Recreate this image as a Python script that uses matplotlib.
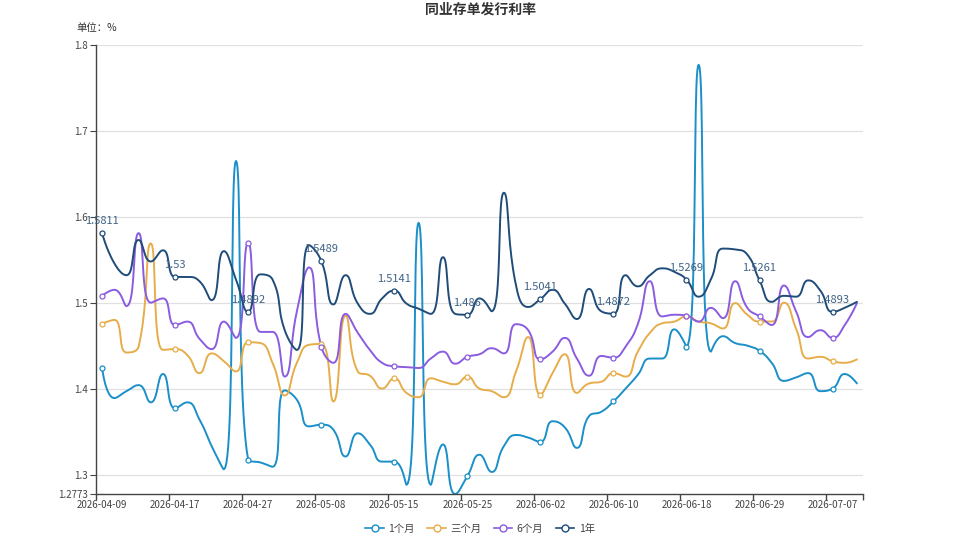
import numpy as np
import matplotlib
matplotlib.use("Agg")
import matplotlib.pyplot as plt
from matplotlib.lines import Line2D

plt.rcParams['font.family'] = ['Noto Sans CJK SC', 'DejaVu Sans']

dates = ["2026-04-09", "2026-04-10", "2026-04-13", "2026-04-14", "2026-04-15", "2026-04-16",
         "2026-04-17", "2026-04-20", "2026-04-21", "2026-04-22", "2026-04-23", "2026-04-24",
         "2026-04-27", "2026-04-28", "2026-04-29", "2026-04-30", "2026-05-06", "2026-05-07",
         "2026-05-08", "2026-05-09", "2026-05-11", "2026-05-12", "2026-05-13", "2026-05-14",
         "2026-05-15", "2026-05-18", "2026-05-19", "2026-05-20", "2026-05-21", "2026-05-22",
         "2026-05-25", "2026-05-26", "2026-05-27", "2026-05-28", "2026-05-29", "2026-06-01",
         "2026-06-02", "2026-06-03", "2026-06-04", "2026-06-05", "2026-06-08", "2026-06-09",
         "2026-06-10", "2026-06-11", "2026-06-12", "2026-06-15", "2026-06-16", "2026-06-17",
         "2026-06-18", "2026-06-22", "2026-06-23", "2026-06-24", "2026-06-25", "2026-06-26",
         "2026-06-29", "2026-06-30", "2026-07-01", "2026-07-02", "2026-07-03", "2026-07-06",
         "2026-07-07", "2026-07-08", "2026-07-09"]

m1 = [1.424, 1.389, 1.397, 1.404, 1.384, 1.417, 1.377, 1.384, 1.364, 1.333,
      1.306, 1.665, 1.317, 1.314, 1.309, 1.398, 1.387, 1.356, 1.358, 1.352,
      1.321, 1.348, 1.335, 1.315, 1.315, 1.288, 1.593, 1.288, 1.335, 1.2773,
      1.298, 1.323, 1.303, 1.333, 1.346, 1.343, 1.338, 1.362, 1.355, 1.331,
      1.368, 1.373, 1.385, 1.400, 1.416, 1.435, 1.435, 1.469, 1.449, 1.777,
      1.443, 1.461, 1.453, 1.450, 1.444, 1.430, 1.409, 1.413, 1.418, 1.397,
      1.400, 1.417, 1.406]

m3 = [1.4755, 1.480, 1.442, 1.449, 1.569, 1.445, 1.446, 1.439, 1.418, 1.441,
      1.432, 1.420, 1.454, 1.453, 1.430, 1.392, 1.430, 1.451, 1.452, 1.385,
      1.485, 1.420, 1.415, 1.400, 1.412, 1.395, 1.390, 1.412, 1.408, 1.405,
      1.414, 1.400, 1.397, 1.390, 1.420, 1.460, 1.393, 1.418, 1.440, 1.395,
      1.406, 1.408, 1.418, 1.414, 1.443, 1.465, 1.476, 1.478, 1.484, 1.478,
      1.476, 1.470, 1.4995, 1.486, 1.478, 1.478, 1.500, 1.470, 1.435, 1.437,
      1.432, 1.430, 1.434]

m6 = [1.508, 1.515, 1.496, 1.581, 1.500, 1.505, 1.474, 1.478, 1.458, 1.446,
      1.478, 1.459, 1.570, 1.466, 1.466, 1.414, 1.490, 1.541, 1.449, 1.430,
      1.487, 1.465, 1.445, 1.430, 1.426, 1.425, 1.424, 1.435, 1.443, 1.429,
      1.437, 1.440, 1.447, 1.441, 1.475, 1.468, 1.434, 1.443, 1.459, 1.435,
      1.415, 1.438, 1.436, 1.449, 1.475, 1.525, 1.484, 1.486, 1.485, 1.478,
      1.494, 1.482, 1.525, 1.494, 1.484, 1.474, 1.520, 1.490, 1.460, 1.468,
      1.459, 1.474, 1.4995]

y1 = [1.5811, 1.546, 1.532, 1.573, 1.548, 1.561, 1.530, 1.530, 1.525, 1.503,
      1.560, 1.527, 1.4892, 1.533, 1.527, 1.468, 1.445, 1.567, 1.5489, 1.498,
      1.532, 1.499, 1.487, 1.505, 1.5141, 1.499, 1.493, 1.487, 1.553, 1.487,
      1.486, 1.505, 1.490, 1.628, 1.520, 1.495, 1.5041, 1.515, 1.499, 1.481,
      1.516, 1.490, 1.4872, 1.532, 1.519, 1.532, 1.540, 1.536, 1.5269, 1.507,
      1.527, 1.563, 1.562, 1.556, 1.5261, 1.501, 1.508, 1.507, 1.526, 1.514,
      1.4893, 1.494, 1.501]

series_names = ["1个月", "三个月", "6个月", "1年"]
series_vals = [m1, m3, m6, y1]
colors = ["#1a8fc8", "#e6ad4a", "#8a5ce0", "#1f4c78"]

Y_MIN, Y_MAX = 1.2773, 1.8

fig = plt.figure(figsize=(9.59, 5.39), dpi=100)
ax = fig.add_axes([96 / 959, 45 / 539, 767 / 959, 449 / 539])
ax.set_xlim(-0.5, len(dates) - 0.5)
ax.set_ylim(Y_MIN, Y_MAX)

# pixel scales for echarts-like smoothing
PX_X = 767 / len(dates)
PX_Y = 449 / (Y_MAX - Y_MIN)


def echarts_smooth(xs, ys, smooth=0.5, n=24):
    X = [x * PX_X for x in xs]
    Y = [y * PX_Y for y in ys]
    N = len(X)
    out_x, out_y = [X[0]], [Y[0]]
    cp0 = (X[0], Y[0])
    t = np.linspace(0, 1, n)[1:]
    for i in range(1, N):
        x, y = X[i], Y[i]
        px, py = X[i - 1], Y[i - 1]
        if i == N - 1:
            cp1 = (x, y)
            ncp0 = None
        else:
            nx, ny = X[i + 1], Y[i + 1]
            dx0, dy0 = x - px, y - py
            dx1, dy1 = nx - x, ny - y
            lp = np.hypot(dx0, dy0)
            ln = np.hypot(dx1, dy1)
            r = ln / (ln + lp)
            vx, vy = nx - px, ny - py
            ncx = x + vx * smooth * r
            ncy = y + vy * smooth * r
            ncx = min(ncx, max(nx, x)); ncy = min(ncy, max(ny, y))
            ncx = max(ncx, min(nx, x)); ncy = max(ncy, min(ny, y))
            vx, vy = ncx - x, ncy - y
            c1x = x - vx * lp / ln
            c1y = y - vy * lp / ln
            c1x = min(c1x, max(px, x)); c1y = min(c1y, max(py, y))
            c1x = max(c1x, min(px, x)); c1y = max(c1y, min(py, y))
            vx, vy = x - c1x, y - c1y
            ncp0 = (x + vx * ln / lp, y + vy * ln / lp)
            cp1 = (c1x, c1y)
        bx = ((1 - t) ** 3 * px + 3 * (1 - t) ** 2 * t * cp0[0]
              + 3 * (1 - t) * t ** 2 * cp1[0] + t ** 3 * x)
        by = ((1 - t) ** 3 * py + 3 * (1 - t) ** 2 * t * cp0[1]
              + 3 * (1 - t) * t ** 2 * cp1[1] + t ** 3 * y)
        out_x.extend(bx)
        out_y.extend(by)
        cp0 = ncp0
    return np.array(out_x) / PX_X, np.array(out_y) / PX_Y


idx = np.arange(len(dates))
mark_idx = idx[::6]

# grid
for gv in [1.3, 1.4, 1.5, 1.6, 1.7, 1.8]:
    ax.axhline(gv, color="#e0e0e0", lw=0.9, zorder=0)

for name, vals, c in zip(series_names, series_vals, colors):
    sx, sy = echarts_smooth(idx, vals)
    ax.plot(sx, sy, color=c, lw=1.4, zorder=2, solid_capstyle="round")
    ax.plot(mark_idx, np.array(vals)[mark_idx], linestyle="none", marker="o",
            markersize=3.6, markerfacecolor="white", markeredgecolor=c,
            markeredgewidth=0.9, zorder=3)

for i in mark_idx:
    ax.annotate(f"{y1[i]:g}", (i, y1[i]), xytext=(0, 5), textcoords="offset points",
                ha="center", va="bottom", fontsize=8, color="#3f6286", zorder=4)

# axes styling
for s in ["top", "right"]:
    ax.spines[s].set_visible(False)
ax.spines["left"].set_color("#444444")
ax.spines["bottom"].set_color("#444444")
ax.spines["left"].set_linewidth(1.0)
ax.spines["bottom"].set_linewidth(1.0)

ax.set_yticks([1.2773, 1.3, 1.4, 1.5, 1.6, 1.7, 1.8])
ax.set_yticklabels(["1.2773", "1.3", "1.4", "1.5", "1.6", "1.7", "1.8"])
ax.set_xticks(mark_idx)
ax.set_xticklabels([dates[i] for i in mark_idx])
ax.set_xticks(list(np.arange(-0.5, len(dates), 6)) + [len(dates) - 0.5], minor=True)
ax.tick_params(axis="x", which="major", length=0, pad=4, labelsize=7, labelcolor="#444444")
ax.tick_params(axis="x", which="minor", length=4, color="#444444", width=1.0)
ax.tick_params(axis="y", length=4, color="#444444", labelsize=7, labelcolor="#444444", pad=2)

fig.text(480 / 959, 1 - 10 / 539, "同业存单发行利率", ha="center", va="center",
         fontsize=10, fontweight="bold", color="#333333")
fig.text(76 / 959, 1 - 28 / 539, "单位：%", ha="left", va="center",
         fontsize=7.5, color="#333333")

handles = [Line2D([0], [0], color=c, lw=1.2, marker="o", markersize=5,
                  markerfacecolor="white", markeredgecolor=c, markeredgewidth=1.0)
           for c in colors]
fig.legend(handles, series_names, loc="center", bbox_to_anchor=(480 / 959, 1 - 529 / 539),
           ncol=4, frameon=False, fontsize=7.5, handlelength=1.8, handletextpad=0.4,
           columnspacing=1.2, labelcolor="#444444")

fig.savefig("out.png", dpi=100)
